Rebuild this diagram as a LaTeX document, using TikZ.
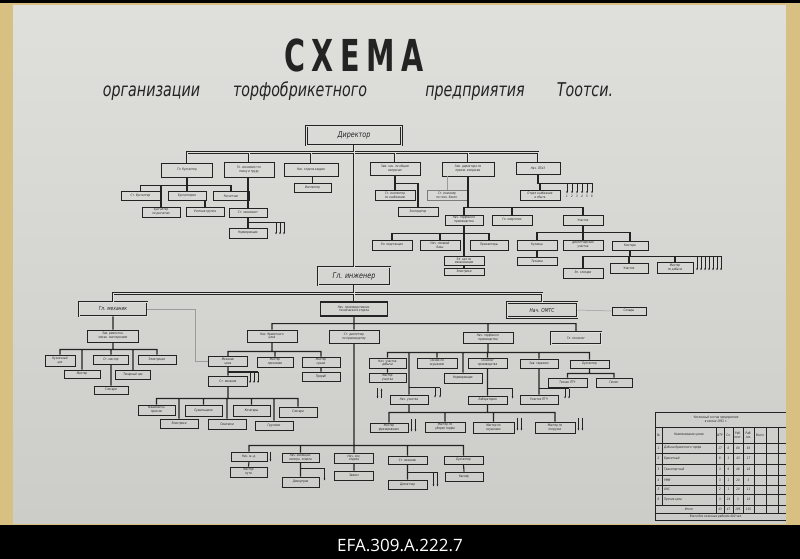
\documentclass[tikz,border=0pt]{standalone}
\usepackage{fontspec}
\usetikzlibrary{arrows.meta}

\newfontfamily\boxfont[FakeStretch=0.8]{DejaVu Sans}
\newfontfamily\headfont[FakeStretch=0.65,LetterSpace=15]{DejaVu Sans}
\newfontfamily\subfont[FakeStretch=0.75]{DejaVu Sans}
\newfontfamily\capfont{Open Sans}

\definecolor{ink}{RGB}{35,35,35}
\definecolor{paper}{RGB}{223,223,220}
\definecolor{paperlo}{RGB}{204,204,201}
\definecolor{cream}{RGB}{216,192,130}

\begin{document}
\begin{tikzpicture}[x=1pt, y=-1pt,
    box/.style = {draw=ink, line width=0.9, inner sep=0.4, align=center, text=ink,
                  font=\boxfont\itshape\fontsize{3.3}{3.8}\selectfont},
    bigbox/.style = {box, double=paper, double distance=0.8},
    wh/.style 2 args = {minimum width=#1, minimum height=#2},
    link/.style = {draw=ink, line width=1.1},
    trunk/.style = {draw=ink, line width=0.8, double=paper, double distance=0.9},
    faint/.style = {draw=ink!45, line width=0.5},
    arr/.style = {draw=ink, line width=0.45, -{Stealth[length=2.2pt, width=1.6pt]}},
    tab/.style = {draw=ink, line width=0.5},
    cell/.style = {inner sep=0, text=ink, font=\boxfont\itshape\fontsize{3.3}{3.8}\selectfont},
                    ]
\useasboundingbox (0,0) rectangle (800,559);
\fill[black] (0,0) rectangle (800,559);
\fill[cream] (0,3) rectangle (800,525);
\shade[top color=paper, bottom color=paperlo] (13,6) rectangle (786,523);
%
\node[anchor=base, inner sep=0, text=ink, font=\headfont\bfseries\fontsize{44}{44}\selectfont] (title) at (354,72) {СХЕМА};
\node[anchor=base, inner sep=0, text=ink, font=\subfont\itshape\fontsize{19}{19}\selectfont] (sub1) at (151.5,97) {организации};
\node[anchor=base, inner sep=0, text=ink, font=\subfont\itshape\fontsize{19}{19}\selectfont] (sub2) at (300,97) {торфобрикетного};
\node[anchor=base, inner sep=0, text=ink, font=\subfont\itshape\fontsize{19}{19}\selectfont] (sub3) at (475,97) {предприятия};
\node[anchor=base, inner sep=0, text=ink, font=\subfont\itshape\fontsize{19}{19}\selectfont] (sub4) at (585,97) {Тоотси.};
\node[anchor=base, inner sep=0, text=white, font=\capfont\fontsize{17}{17}\selectfont] (caption) at (400,551) {EFA.309.A.222.7};
%
% director level
\node[bigbox, wh={95}{19}, font=\boxfont\itshape\fontsize{8}{9}\selectfont] (dir) at (354,135.5) {Директор};
\node[box, wh={51}{14}] (glbuh) at (187,170) {Гл. бухгалтер};
\node[box, wh={50}{15}] (glek) at (249,169.5) {Гл. экономист по\\плану и труду};
\node[box, wh={54}{13}] (kadr) at (311,169.5) {Нач. отдела кадров};
\node[box, wh={50}{13}] (zam1) at (395,168.5) {Зам. нач. по общим\\вопросам};
\node[box, wh={52}{14}] (zam2) at (468,169) {Зам. директора по\\произв. вопросам};
\node[box, wh={44}{12}] (otiz) at (538,168) {Нач. ОТиЗ};
%
\node[box, wh={39}{9}] (buh1) at (140.5,196) {Ст. бухгалтер};
\node[box, wh={38}{9}] (buh2) at (187,196) {Бухгалтерия};
\node[box, wh={36}{9}] (buh3) at (231,196) {Расчетчик};
\node[box, wh={38}{10}] (buh4) at (161,212) {Бухгалтер\\по расчетам};
\node[box, wh={38}{9}] (buh5) at (205,212) {Учетная группа};
\node[box, wh={38}{9}] (ek1) at (248,212.5) {Ст. экономист};
\node[box, wh={38}{10}] (ek2) at (248,233) {Нормировщик};
\node[box, wh={37}{9}] (kadr1) at (312.5,187.5) {Инспектор};
\node[box, wh={40}{10}] (z11) at (395,195) {Ст. инспектор\\по снабжению};
\node[box, wh={40}{9}] (z12) at (418,211.5) {Экспедитор};
\node[box, wh={40}{10}, draw=ink!60] (z21) at (447,195) {Ст. инженер\\по техн. безоп.};
\node[box, wh={38}{10}] (z22) at (464,220) {Нач. торфяного\\производства};
\node[box, wh={40}{10}] (z23) at (512,220) {Гл. энергетик};
\node[box, wh={40}{10}] (z24) at (583,220) {Участок};
\node[box, wh={40}{10}] (otiz1) at (540,195) {Отдел снабжения\\и сбыта};
\node[box, wh={40}{10}] (n1) at (392,245) {Эл. подстанция};
\node[box, wh={40}{10}] (n2) at (440,245) {Нач. полевой\\базы};
\node[box, wh={38}{10}] (n3) at (489,245) {Прожекторы};
\node[box, wh={40}{9}] (n4) at (464,261) {Эл. цех по\\механизации};
\node[box, wh={40}{7}] (n5) at (464,272) {Электрики};
\node[box, wh={40}{10}] (u1) at (537,245) {Кузница};
\node[box, wh={40}{10}] (u2) at (583,245) {Диспетчерская\\участка};
\node[box, wh={36}{9}] (u3) at (630,245.5) {Контора};
\node[box, wh={40}{8}] (u4) at (537,261.5) {Техника};
\node[box, wh={40}{10}] (u5) at (583,273) {Эл. слесари};
\node[box, wh={38}{10}] (u6) at (629,268) {Участок};
\node[box, wh={36}{11}] (u7) at (675,267.5) {Мастер\\по добыче};
%
% engineer level
\node[bigbox, wh={72}{18}, font=\boxfont\itshape\fontsize{8}{9}\selectfont] (ing) at (354,276) {Гл. инженер};
\node[bigbox, wh={68}{14}, font=\boxfont\itshape\fontsize{5.5}{6}\selectfont] (mech) at (113,309) {Гл. механик};
\node[box, wh={67}{14}, line width=1.3] (prot) at (354,309) {Нач. производственно-\\технического отдела};
\node[bigbox, wh={70}{15}, font=\boxfont\itshape\fontsize{5.5}{6}\selectfont] (omts) at (542,310) {Нач. ОМТС};
\node[box, wh={34}{8}] (sklad) at (629,311) {Склады};
\node[box, wh={51}{12}] (m0) at (113,336) {Зав. ремонтно-\\механ. мастерскими};
\node[box, wh={30}{11}] (m1) at (60,360.5) {Кузнечный\\цех};
\node[box, wh={35}{9}] (m2) at (111,359.5) {Ст. мастер};
\node[box, wh={38}{9}] (m3) at (157,359.5) {Электроцех};
\node[box, wh={36}{8}] (m4) at (82,374) {Мастер};
\node[box, wh={35}{9}] (m5) at (133,375) {Токарный цех};
\node[box, wh={34}{8}] (m6) at (111,390) {Слесари};
\node[box, wh={50}{12}] (cex) at (272,336) {Нач. брикетного\\цеха};
\node[box, wh={50}{13}] (disp) at (354,336.5) {Ст. диспетчер\\по производству};
\node[box, wh={50}{11}] (torf) at (488,337.5) {Нач. торфяного\\производства};
\node[bigbox, wh={50}{12}] (tech) at (576,338) {Гл. технолог};
\node[box, wh={39}{10}] (mk1) at (228,361.5) {Механик\\цеха};
\node[box, wh={36}{10}] (mk2) at (275,362) {Мастер\\прессовки};
\node[box, wh={38}{10}] (mk3) at (321,362) {Мастер\\сушки};
\node[box, wh={38}{9}] (mk4) at (321,376.5) {Прораб};
\node[box, wh={39}{10}] (mk5) at (228,381) {Ст. механик};
\node[box, wh={37}{10}] (w1) at (156.5,410) {Машинисты\\прессов};
\node[box, wh={37}{11}] (w2) at (203.5,410.5) {Сушильщики};
\node[box, wh={37}{11}] (w3) at (251.5,410.5) {Кочегары};
\node[box, wh={38}{10}] (w4) at (298,412) {Слесари};
\node[box, wh={38}{9}] (w5) at (179,423.5) {Электрики};
\node[box, wh={38}{10}] (w6) at (227,424) {Смазчики};
\node[box, wh={38}{9}] (w7) at (274,425.5) {Грузчики};
\node[box, wh={37}{10}] (t1) at (387.5,363) {Нач. участка\\добычи};
\node[box, wh={40}{10}] (t2) at (437,363) {Техник по\\осушению};
\node[box, wh={39}{10}] (t3) at (487.5,363) {Технолог\\производства};
\node[box, wh={38}{9}] (t4) at (539,363.5) {Зав. гаражом};
\node[box, wh={39}{8}] (t5) at (589.5,364) {Бухгалтер};
\node[box, wh={37}{9}] (t6) at (387.5,377.5) {Мастер\\участка};
\node[box, wh={38}{10}] (t7) at (463,378) {Нормировщик};
\node[box, wh={39}{9}] (t8) at (567.5,382.5) {Техник ПТЧ};
\node[box, wh={36}{9}] (t9) at (614,382.5) {Геолог};
\node[box, wh={38}{9}] (na) at (409,399.5) {Нач. участка};
\node[box, wh={39}{8}] (lab) at (487.5,400) {Лаборатория};
\node[box, wh={38}{9}] (pt) at (539,399.5) {Участок ПТЧ};
\node[box, wh={38}{9}] (s1) at (389,427.5) {Мастер\\фрезерования};
\node[box, wh={40}{10}] (s2) at (445,427) {Мастер по\\уборке торфа};
\node[box, wh={41}{11}] (s3) at (493.5,427.5) {Мастер по\\осушению};
\node[box, wh={40}{11}] (s4) at (555,427.5) {Мастер по\\погрузке};
\node[box, wh={36}{9}] (b1) at (249,456.5) {Нач. ж.-д.};
\node[box, wh={37}{9}] (b2) at (300.5,457.5) {Нач. жилищно-\\коммун. отдела};
\node[box, wh={39}{10}] (b3) at (354,458) {Нач. хоз.\\отдела};
\node[box, wh={39}{8}] (b4) at (407.5,460) {Ст. механик};
\node[box, wh={39}{8}] (b5) at (463.5,460) {Бухгалтер};
\node[box, wh={37}{10}] (b6) at (248.5,472) {Мастер\\пути};
\node[box, wh={37}{10}] (b7) at (300.5,482) {Домоуправ};
\node[box, wh={39}{9}] (b8) at (354,475.5) {Завхоз};
\node[box, wh={39}{9}] (b9) at (407.5,484.5) {Диспетчер};
\node[box, wh={38}{9}] (b10) at (464,476.5) {Кассир};
%
% director links
\draw[trunk] (dir.south) -- (ing.north)
    (dir.south) -- ++(0,7) -| (glbuh.north)
    (dir.south) -- ++(0,7) -| (glek.north)
    (dir.south) -- ++(0,7) -| (kadr.north)
    (dir.south) -- ++(0,7) -| (zam1.north)
    (dir.south) -- ++(0,7) -| (zam2.north)
    (dir.south) -- ++(0,7) -| (otiz.north);
\draw[link] (glbuh.south) -- ++(0,8) -| (buh1.north)
    (glbuh.south) -- ++(0,8) -| (buh2.north)
    (glbuh.south) -- ++(0,8) -| (buh3.north)
    (glbuh.south) -- ++(0,8) -| (buh4.north)
    (buh2.south -| buh5) -- (buh5.north)
    (glek.south -| ek1) -- (ek1.north)
    (ek1.south) -- (ek2.north)
    (kadr.south -| kadr1) -- (kadr1.north)
    (zam1.south) -- ++(0,8) -| (z11.north)
    (zam1.south) -- ++(0,8) -| (z12.north)
    (zam2.south) -- ++(0,31) -| (z22.north)
    (zam2.south) -- ++(0,31) -| (z23.north)
    (zam2.south) -- ++(0,31) -| (z24.north)
    (otiz.south) -- ++(0,9) -| (otiz1.north)
    (z22.south) -- ++(0,8) -| (n1.north)
    (z22.south) -- ++(0,8) -| (n2.north)
    (z22.south) -- ++(0,8) -| (n3.north)
    (z22.south) -- (n4.north)
    (n4.south) -- (n5.north)
    (z24.south) -- ++(0,7) -| (u1.north)
    (z24.south) -- ++(0,7) -| (u2.north)
    (z24.south) -- ++(0,7) -| (u3.north)
    (u1.south) -- (u4.north)
    (u3.south) -- ++(0,6) -| (u5.north)
    (u3.south) -- ++(0,6) -| (u6.north)
    (u3.south) -- ++(0,6) -| (u7.north);
\draw[faint] (zam2.south -| z21) -- (z21.north);
%
\draw[link] (ek1.south) ++(0,5) coordinate (eka) -- ++(36,0);
\foreach \dx in {28,32,36} \draw[arr] (eka) ++(\dx,0) -- ++(0,12);
\draw[link] (otiz.south) ++(0,9) coordinate (otiza) -- ++(54,0);
\foreach \dx/\t in {29/1,34/2,39/3,44/4,49/5,54/6} {
  \draw[arr] (otiza) ++(\dx,0) -- ++(0,10);
  \path (otiza) ++(\dx,13) node[cell] {\t};
}
\draw[link] (u3.south) ++(0,6) coordinate (ua) -- ++(91,0);
\foreach \dx in {67,71,...,91} \draw[arr] (ua) ++(\dx,0) -- ++(0,14);
%
% engineer links
\draw[trunk] (ing.south) -- (prot.north)
    (ing.south) -- ++(0,8) -| (mech.north)
    (ing.south) -- ++(0,8) -| (omts.north);
\draw[faint] (omts.east) -- (sklad.west);
\draw[faint] (mech.east) -- ++(48,0) |- (mk1.west);
\draw[link] (mech.south) -- (m0.north)
    (m0.south) -- ++(0,7) -| (m1.north)
    (m0.south) -- ++(0,7) -| (m2.north)
    (m0.south) -- ++(0,7) -| (m3.north)
    (m0.south) -- ++(0,7) -| (m4.north)
    (m0.south) -- ++(0,7) -| (m5.north)
    (m2.south) -- (m6.north)
    (prot.south) -- (disp.north)
    (prot.south) -- ++(0,7) -| (cex.north)
    (prot.south) -- ++(0,7) -| (torf.north)
    (prot.south) -- ++(0,7) -| (tech.north)
    (cex.south) -- ++(0,9) -| (mk1.north)
    (cex.south) -- ++(0,9) -| (mk2.north)
    (cex.south) -- ++(0,9) -| (mk3.north)
    (mk3.south) -- (mk4.north)
    (mk1.south) -- (mk5.north)
    (mk5.south) -- ++(0,12) -| (w1.north)
    (mk5.south) -- ++(0,12) -| (w2.north)
    (mk5.south) -- ++(0,12) -| (w3.north)
    (mk5.south) -- ++(0,12) -| (w4.north)
    (mk5.south) -- ++(0,12) -| (w5.north)
    (mk5.south) -- ++(0,12) -| (w6.north)
    (mk5.south) -- ++(0,12) -| (w7.north)
    (torf.south) -- ++(0,9) -| (t1.north)
    (torf.south) -- ++(0,9) -| (t2.north)
    (torf.south) -- ++(0,9) -| (t3.north)
    (torf.south) -- ++(0,9) -| (t4.north)
    (torf.south) -- ++(0,9) -| (t5.north)
    (torf.south) -- ++(0,9) -| (t7.north)
    (torf.south) -- ++(0,9) -| (na.north)
    (t1.south) -- (t6.north)
    (t5.south) -- ++(0,5) -| (t8.north)
    (t5.south) -- ++(0,5) -| (t9.north)
    (t3.south) -- (lab.north)
    (t4.south) -- (pt.north)
    (na.south) -- ++(0,8) -| (s1.north)
    (na.south) -- ++(0,8) -| (s2.north)
    (na.south) -- ++(0,8) -| (s3.north)
    (na.south) -- ++(0,8) -| (s4.north)
    (lab.south) -- ++(0,8)
    (disp.south) -- (b3.north)
    (disp.south) -- ++(0,102) -| (b1.north)
    (disp.south) -- ++(0,102) -| (b2.north)
    (disp.south) -- ++(0,102) -| (b4.north)
    (disp.south) -- ++(0,102) -| (b5.north)
    (b1.south) -- (b6.north)
    (b2.south) -- ++(0,6) -| (b7.north)
    (b3.south) -- (b8.north)
    (b4.south) -- ++(0,8) -| (b9.north)
    (b5.south) -- (b10.north);
%
\draw[link] (mk1.south) ++(0,5) coordinate (mka) -- ++(30,0);
\foreach \dx in {22,26,30} \draw[arr] (mka) ++(\dx,0) -- ++(0,11);
\draw[link] (na.north) ++(0,-7) coordinate (naa) -- ++(31,0);
\foreach \dx in {26,31} \draw[arr] (naa) ++(\dx,0) -- ++(0,10);
\draw[link] (lab.north) ++(0,-7) coordinate (laba) -- ++(25,0);
\draw[arr] (laba) ++(25,0) -- ++(0,10);
\draw[link] (pt.north) ++(0,-6) coordinate (pta) -- ++(30,0);
\foreach \dx in {26,30} \draw[arr] (pta) ++(\dx,0) -- ++(0,10);
\foreach \b in {s1,s3,s4} \foreach \dx in {3,7} \draw[arr] (\b.north east) ++(\dx,-4) -- ++(0,13);
\draw[arr] ([xshift=-10]t6.south) ++(0,6) -- ++(0,10);
\draw[arr] ([xshift=-6]t6.south) ++(0,16) -- ++(0,-10);
\draw[link] (b2.south) ++(0,6) coordinate (b2a) -- ++(24,0);
\draw[arr] (b2a) ++(24,0) -- ++(0,12);
\draw[link] (b4.south) ++(0,8) coordinate (b4a) -- ++(30,0);
\foreach \dx in {26,30} \draw[arr] (b4a) ++(\dx,0) -- ++(0,14);
\draw[arr] (b1.north east) ++(3,0) -- ++(0,10);
%
% staff table
\draw[tab] (655,412) rectangle (786,520);
\foreach \y in {427,443,453,464,475,485,494,505,513} \draw[tab] (655,\y) -- (786,\y);
\draw[tab] (662,427) -- (662,505);
\foreach \x in {716,724,733,743,754,766,778} \draw[tab] (\x,427) -- (\x,513);
\node[cell, align=center] (ttl) at (716,419.5) {Численный состав предприятия\\в сезоне 1951 г.};
\node[cell] (h0) at (658.5,435) {№};
\node[cell] (h1) at (689,435) {Наименование цехов};
\node[cell] (h2) at (720,435) {ИТР};
\node[cell] (h3) at (728.5,435) {Сл.};
\node[cell, align=center] (h4) at (738,435) {Раб.\\пост.};
\node[cell, align=center] (h5) at (748.5,435) {Раб.\\сез.};
\node[cell] (h6) at (760,435) {Всего};
\foreach \y/\i/\n/\a/\b/\c/\d in {448/1/Добыча брикетного торфа/17/6/80/83,
    458.5/2/Брикетный/8/1/43/17, 469.5/3/Транспортный/3/9/46/16,
    480/4/РММ/3/1/20/5, 489.5/5/ОКС/2/1/20/11, 499.5/6/Прочие цеха/3/24/3/16} {
  \node[cell] at (658.5,\y) {\i};
  \node[cell, anchor=west] at (664,\y) {\n};
  \node[cell] at (720,\y) {\a};
  \node[cell] at (728.5,\y) {\b};
  \node[cell] at (738,\y) {\c};
  \node[cell] at (748.5,\y) {\d};
}
\node[cell] (sum) at (689,509) {Итого};
\node[cell] (sum1) at (720,509) {43};
\node[cell] (sum2) at (728.5,509) {47};
\node[cell] (sum3) at (738,509) {195};
\node[cell] (sum4) at (748.5,509) {150};
\node[cell] (total) at (716,516.5) {Всего без сезонных рабочих 400 чел.};
\fill[cream] (786,3) rectangle (800,525);
\end{tikzpicture}
\end{document}
